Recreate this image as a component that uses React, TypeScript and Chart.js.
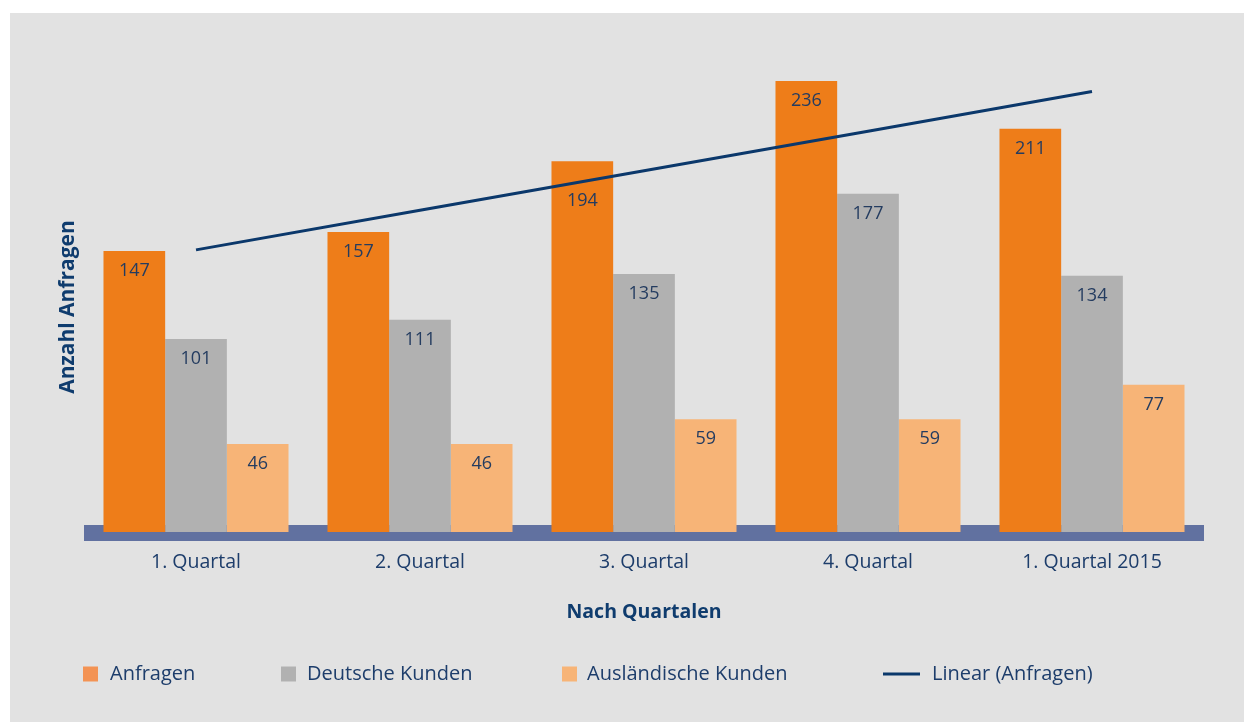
import React, { useEffect, useRef } from "react";
import { Chart, registerables } from "chart.js";

Chart.register(...registerables);

const categories = ["1. Quartal", "2. Quartal", "3. Quartal", "4. Quartal", "1. Quartal 2015"];
const anfragen = [147, 157, 194, 236, 211];
const deutscheKunden = [101, 111, 135, 177, 134];
const auslaendischeKunden = [46, 46, 59, 59, 77];
const linearAnfragen = [147.6, 168.3, 189.0, 209.7, 230.4];
const yMax = 260;

const FONT = "'Open Sans', 'Noto Sans', sans-serif";
const TEXT = "#1d3d6b";
const TITLE = "#0f3c6e";
const C_ORANGE = "#ee7d19";
const C_GRAY = "#b1b1b1";
const C_LIGHT = "#f7b477";
const C_LINE = "#0b386b";
const C_BAND = "#6171a0";

// label shift (px below bar top), with one label moved down to clear the trend line
const labelShift = (di: number, i: number) => (di === 0 && i === 2 ? 40 : 20);

const legendItems = [
  { label: "Anfragen", color: "#f39354", type: "box", boxX: 73, textX: 100 },
  { label: "Deutsche Kunden", color: C_GRAY, type: "box", boxX: 271, textX: 297 },
  { label: "Ausländische Kunden", color: C_LIGHT, type: "box", boxX: 552, textX: 577 },
  { label: "Linear (Anfragen)", color: C_LINE, type: "line", boxX: 873, textX: 922 },
];

const decorPlugin = {
  id: "decor",
  beforeDatasetsDraw(chart: any) {
    const { ctx, chartArea, scales } = chart;
    const y0 = scales.y.getPixelForValue(0);
    ctx.save();
    ctx.fillStyle = C_BAND;
    ctx.fillRect(chartArea.left, y0 - 7, chartArea.right - chartArea.left, 16);
    ctx.restore();
  },
  afterDatasetsDraw(chart: any) {
    const { ctx } = chart;
    ctx.save();
    ctx.font = `18px ${FONT}`;
    ctx.fillStyle = "#243c60";
    ctx.textAlign = "center";
    ctx.textBaseline = "middle";
    [0, 1, 2].forEach((di) => {
      const meta = chart.getDatasetMeta(di);
      const data = chart.data.datasets[di].data as number[];
      meta.data.forEach((bar: any, i: number) => {
        ctx.fillText(String(data[i]), bar.x, bar.y + labelShift(di, i));
      });
    });
    ctx.restore();
  },
  afterDraw(chart: any) {
    const { ctx } = chart;
    ctx.save();
    ctx.font = `bold 21px ${FONT}`;
    ctx.fillStyle = TITLE;
    ctx.textAlign = "center";
    ctx.textBaseline = "middle";
    ctx.translate(58, 294);
    ctx.rotate(-Math.PI / 2);
    ctx.fillText("Anzahl Anfragen", 0, 0);
    ctx.restore();

    ctx.save();
    const ly = 661;
    ctx.font = `20px ${FONT}`;
    ctx.textBaseline = "middle";
    ctx.textAlign = "left";
    legendItems.forEach((it) => {
      if (it.type === "box") {
        ctx.fillStyle = it.color;
        ctx.fillRect(it.boxX, ly - 7.5, 15, 15);
      } else {
        ctx.strokeStyle = it.color;
        ctx.lineWidth = 3;
        ctx.beginPath();
        ctx.moveTo(it.boxX, ly);
        ctx.lineTo(it.boxX + 37, ly);
        ctx.stroke();
      }
      ctx.fillStyle = TEXT;
      ctx.fillText(it.label, it.textX, ly);
    });
    ctx.restore();
  },
};

export default function App() {
  const ref = useRef<HTMLCanvasElement>(null);
  useEffect(() => {
    if (!ref.current) return;
    const chart = new Chart(ref.current, {
      type: "bar",
      data: {
        labels: categories,
        datasets: [
          { label: "Anfragen", data: anfragen, backgroundColor: C_ORANGE, order: 2 },
          { label: "Deutsche Kunden", data: deutscheKunden, backgroundColor: C_GRAY, order: 2 },
          { label: "Ausländische Kunden", data: auslaendischeKunden, backgroundColor: C_LIGHT, order: 2 },
          {
            type: "line",
            label: "Linear (Anfragen)",
            data: linearAnfragen,
            borderColor: C_LINE,
            borderWidth: 3,
            pointRadius: 0,
            fill: false,
            tension: 0,
            order: 0,
          } as any,
        ],
      },
      options: {
        responsive: false,
        animation: false,
        devicePixelRatio: 1,
        layout: { padding: { top: 22, right: 40, bottom: 98, left: 0 } },
        datasets: { bar: { categoryPercentage: 0.826, barPercentage: 1.0 } },
        plugins: { legend: { display: false }, tooltip: { enabled: false } },
        scales: {
          x: {
            grid: { display: false },
            border: { display: false },
            ticks: { color: TEXT, font: { family: FONT, size: 19.5 }, padding: 11 },
            title: {
              display: true,
              text: "Nach Quartalen",
              color: TITLE,
              font: { family: FONT, size: 19.5, weight: "bold" },
              padding: 0,
            },
            afterFit: (s: any) => {
              s.height = 92;
            },
          },
          y: {
            min: 0,
            max: yMax,
            grid: { display: false },
            border: { display: false },
            ticks: { display: false },
            afterFit: (s: any) => {
              s.width = 74;
            },
          },
        },
      },
      plugins: [decorPlugin],
    });
    return () => chart.destroy();
  }, []);
  return (
    <div style={{ position: "absolute", left: 10, top: 13, width: 1234, height: 709, background: "#e2e2e2" }}>
      <canvas ref={ref} width={1234} height={709} style={{ display: "block" }} />
    </div>
  );
}
